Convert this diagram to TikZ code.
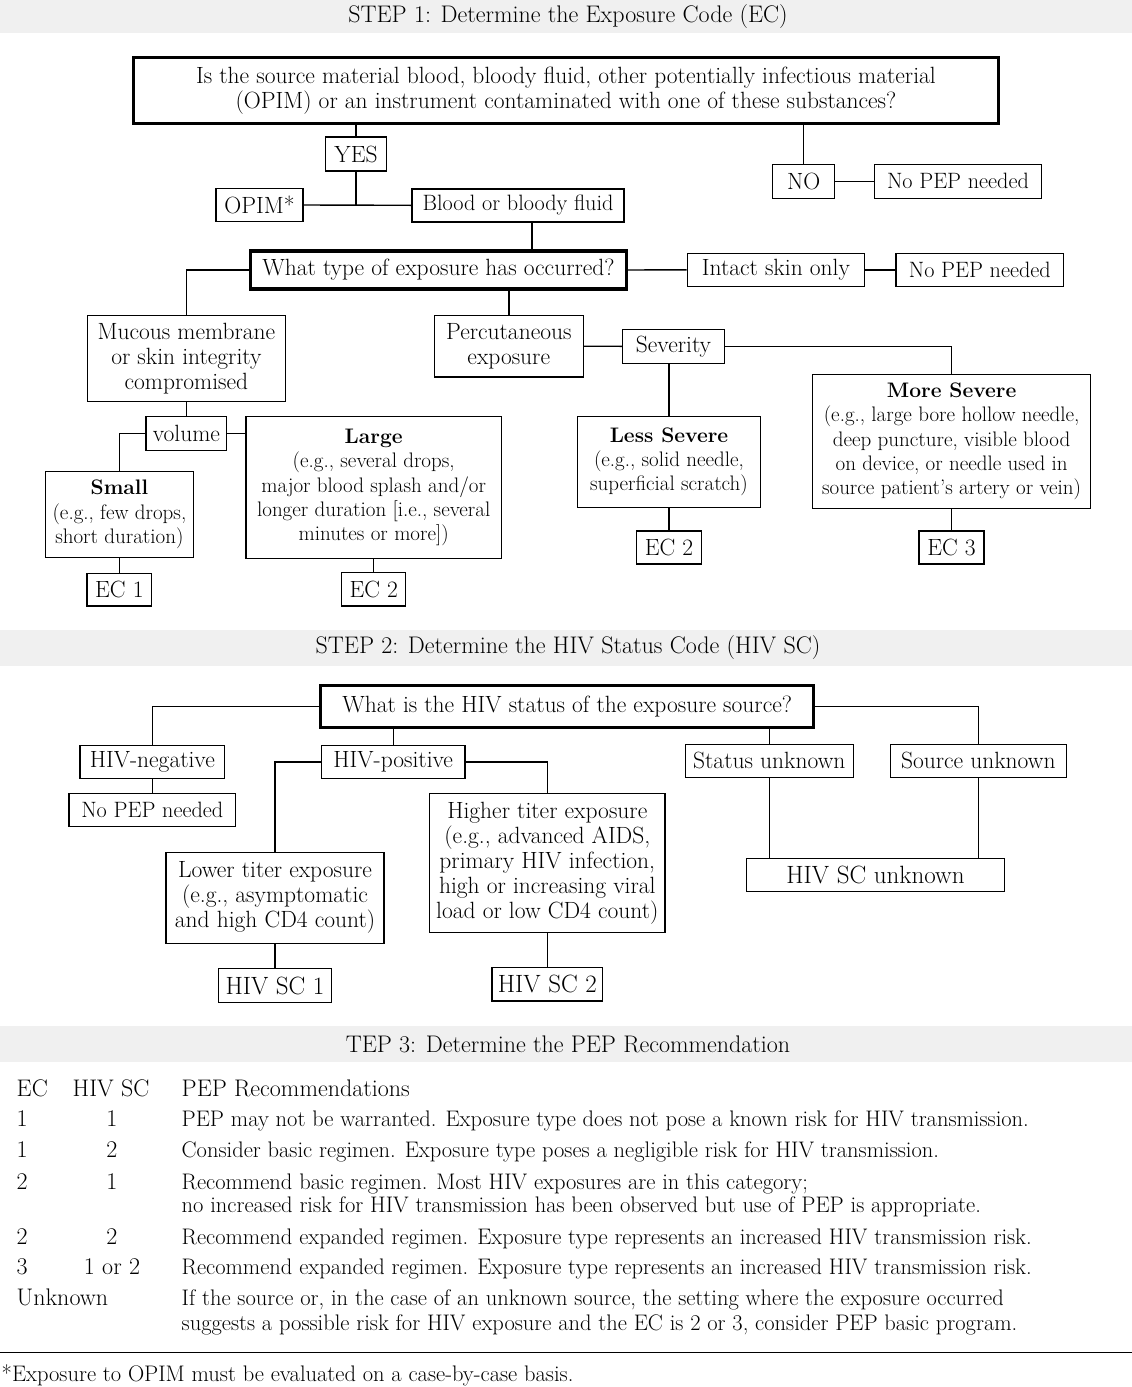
\documentclass[tikz,border=0pt]{standalone}
\usepackage{tikz}

\begin{document}
\begin{tikzpicture}[x=1pt, y=-1pt, line width=1.4pt,
  every node/.style={font=\fontsize{23.5}{25}\selectfont, inner sep=0pt, align=center},
  box/.style 2 args={draw, minimum width=#1, minimum height=#2},
  qbox/.style 2 args={draw, line width=3.2pt, minimum width=#1, minimum height=#2},
  bar/.style={fill=gray!12, minimum width=1140, minimum height=#1, font=\fontsize{24}{25}\selectfont},
  sm/.style={font=\fontsize{21}{24.3}\selectfont},
  nopep/.style={font=\fontsize{22.2}{25}\selectfont},
  code/.style={font=\fontsize{25}{25}\selectfont},
  cell/.style={anchor=base west, align=left, font=\fontsize{24}{25}\selectfont},
  num/.style={anchor=base, font=\fontsize{24}{25}\selectfont},
  rec/.style={anchor=base west, align=left, font=\fontsize{22.5}{25}\selectfont}]
  \useasboundingbox (0,0) rectangle (1132,1387);

  % step 1
  \node[bar=33] (stepone) at (568,16.5) {STEP 1: Determine the Exposure Code (EC)};
  \node[qbox={865}{65.6}] (material) at (566,90.5) {Is the source material blood, bloody fluid, other potentially infectious material\\(OPIM) or an instrument contaminated with one of these substances?};
  \node[box={61}{34}] (yes) at (356,154) {YES};
  \node[box={87}{33}] (opim) at (259.5,205) {OPIM*};
  \node[box={212}{33}, nopep] (blood) at (518,205.3) {Blood or bloody fluid};
  \node[box={62}{34}] (no) at (803.6,181.3) {NO};
  \node[box={167.5}{34}, nopep] (nopepa) at (958,181.3) {No PEP needed};
  \node[qbox={376}{38}] (exposure) at (438.5,270) {What type of exposure has occurred?};
  \node[box={177}{33}] (intact) at (775.9,269.8) {Intact skin only};
  \node[box={167.6}{33}, nopep] (nopepb) at (979.8,269.8) {No PEP needed};
  \node[box={198}{86}] (mucous) at (186.4,358.3) {Mucous membrane\\or skin integrity\\compromised};
  \node[box={149}{61.7}] (percut) at (508.8,346.2) {Percutaneous\\exposure};
  \node[box={102}{34}] (severity) at (673.5,346.3) {Severity};
  \node[box={183}{91}, sm] (less) at (669,461.8) {{\bfseries Less Severe}\\(e.g., solid needle,\\superficial scratch)};
  \node[box={278}{134}, sm] (more) at (951.6,441.3) {{\bfseries More Severe}\\(e.g., large bore hollow needle,\\deep puncture, visible blood\\on device, or needle used in\\source patient's artery or vein)};
  \node[box={65}{33}] (ectwob) at (669,547.5) {EC 2};
  \node[box={65}{33}] (ecthree) at (951.6,547.5) {EC 3};
  \node[box={80.7}{33.6}] (volume) at (186.4,433.5) {volume};
  \node[box={147.8}{86}, sm] (small) at (119.4,514.3) {{\bfseries Small}\\(e.g., few drops,\\short duration)};
  \node[box={255.3}{141.6}, sm] (large) at (373.7,487.5) {{\bfseries Large}\\(e.g., several drops,\\major blood splash and/or\\longer duration [i.e., several\\minutes or more])};
  \node[box={64.7}{32.7}] (econe) at (119.4,589.7) {EC 1};
  \node[box={64}{33.7}] (ectwo) at (373.7,589.2) {EC 2};

  \draw (yes.north) -- (yes.north |- material.south);
  \draw (yes.south) -- (yes.south |- opim.east);
  \draw (opim.east) -- (blood.west);
  \draw (no.north) -- (no.north |- material.south);
  \draw (no) -- (nopepa);
  \draw ([xshift=14]blood.south) -- ([xshift=14]blood.south |- exposure.north);
  \draw (exposure.west) -| (mucous.north);
  \draw (exposure.east) -- (intact.west);
  \draw (intact) -- (nopepb);
  \draw (percut.north) -- (percut.north |- exposure.south);
  \draw (percut.east) -- (severity.west);
  \draw (severity.east) -| (more.north);
  \draw (less.north) -- (less.north |- severity.south);
  \draw (less) -- (ectwob);
  \draw (more) -- (ecthree);
  \draw (mucous) -- (volume);
  \draw (volume.west) -| (small.north);
  \draw (volume.east) -- (volume.east -| large.west);
  \draw (small) -- (econe);
  \draw (large) -- (ectwo);

  % step 2
  \node[bar=35.7] (steptwo) at (568,647.8) {STEP 2: Determine the HIV Status Code (HIV SC)};
  \node[qbox={493}{42}] (hiv) at (567.2,706.3) {What is the HIV status of the exposure source?};
  \node[box={144.4}{33}] (neg) at (152.3,761.8) {HIV-negative};
  \node[box={166.8}{33}, nopep] (nopepc) at (152.3,809.8) {No PEP needed};
  \node[box={143.7}{33}] (pos) at (393.2,761.8) {HIV-positive};
  \node[box={218}{91}] (lower) at (275,897.8) {Lower titer exposure\\(e.g., asymptomatic\\and high CD4 count)};
  \node[box={235.4}{139}] (higher) at (547.3,862.8) {Higher titer exposure\\(e.g., advanced AIDS,\\primary HIV infection,\\high or increasing viral\\load or low CD4 count)};
  \node[box={113.4}{33.6}, code] (scone) at (275,985.5) {HIV SC 1};
  \node[box={110.5}{33.7}, code] (sctwo) at (547.3,984.2) {HIV SC 2};
  \node[box={168.2}{33}] (statunk) at (769.3,760.8) {Status unknown};
  \node[box={176}{33}] (srcunk) at (978.3,760.8) {Source unknown};
  \node[box={257.7}{33}, code] (scunk) at (875.5,874.8) {HIV SC unknown};

  \draw (hiv.west) -| (neg.north);
  \draw (neg) -- (nopepc);
  \draw (pos.north) -- (pos.north |- hiv.south);
  \draw (pos.west) -| (lower.north);
  \draw (pos.east) -| (higher.north);
  \draw (lower) -- (scone);
  \draw (higher) -- (sctwo);
  \draw (statunk.north) -- (statunk.north |- hiv.south);
  \draw (hiv.east) -| (srcunk.north);
  \draw (statunk.south) -- (statunk.south |- scunk.north);
  \draw (srcunk.south) -- (srcunk.south |- scunk.north);

  % step 3
  \node[bar=36.3] (stepthree) at (568,1044.2) {TEP 3: Determine the PEP Recommendation};
  \node[cell] (hec) at (16,1096) {EC};
  \node[cell] (hsc) at (72,1096) {HIV SC};
  \node[cell] (hrec) at (181,1096) {PEP Recommendations};
  \node[cell] (eca) at (16,1126) {1};
  \node[num] (sca) at (112,1126) {1};
  \node[rec] (reca) at (181,1126) {PEP may not be warranted. Exposure type does not pose a known risk for HIV transmission.};
  \node[cell] (ecb) at (16,1157) {1};
  \node[num] (scb) at (112,1157) {2};
  \node[rec] (recb) at (181,1157) {Consider basic regimen. Exposure type poses a negligible risk for HIV transmission.};
  \node[cell] (ecc) at (16,1189) {2};
  \node[num] (scc) at (112,1189) {1};
  \node[rec] (recc) at (181,1189) {Recommend basic regimen. Most HIV exposures are in this category;};
  \node[rec] (recca) at (181,1212) {no increased risk for HIV transmission has been observed but use of PEP is appropriate.};
  \node[cell] (ecd) at (16,1244) {2};
  \node[num] (scd) at (112,1244) {2};
  \node[rec] (recd) at (181,1244) {Recommend expanded regimen. Exposure type represents an increased HIV transmission risk.};
  \node[cell] (ece) at (16,1274) {3};
  \node[num] (sce) at (112,1274) {1 or 2};
  \node[rec] (rece) at (181,1274) {Recommend expanded regimen. Exposure type represents an increased HIV transmission risk.};
  \node[cell] (ecf) at (16,1305) {Unknown};
  \node[rec] (recf) at (181,1305) {If the source or, in the case of an unknown source, the setting where the exposure occurred};
  \node[rec] (recfa) at (181,1330) {suggests a possible risk for HIV exposure and the EC is 2 or 3, consider PEP basic program.};

  \draw (0,1352.7) -- (1132,1352.7);
  \node[rec] (note) at (1,1381) {*Exposure to OPIM must be evaluated on a case-by-case basis.};
\end{tikzpicture}
\end{document}
